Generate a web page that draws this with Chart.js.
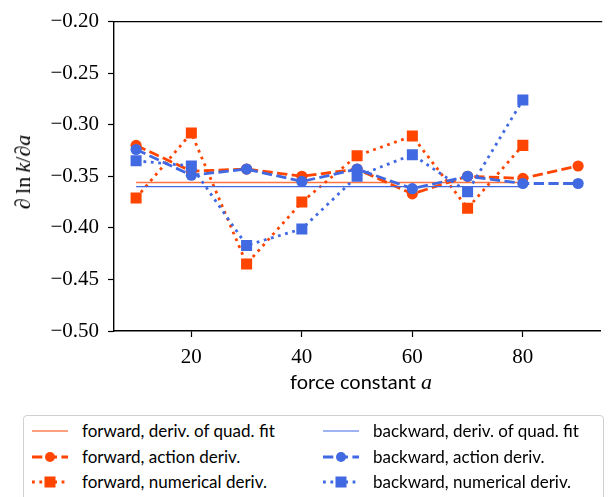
<!DOCTYPE html>
<html>
<head>
<meta charset="utf-8">
<script src="https://cdn.jsdelivr.net/npm/chart.js@4.4.1/dist/chart.umd.min.js"></script>
<style>
  html, body { margin: 0; padding: 0; background: #fff; }
  #wrap { position: relative; width: 608px; height: 497px; overflow: hidden; }
  #c { position: absolute; left: 0; top: 0; }
  #ytitle { position: absolute; left: 23px; top: 172px; transform: translate(-50%, -50%) rotate(-90deg);
            font-family: "Liberation Serif", serif; font-size: 22px; white-space: nowrap; color: #000; }
  #xtitle { position: absolute; left: 361px; top: 382px; transform: translate(-50%, -50%);
            font-family: Lato, sans-serif; font-size: 20px; white-space: nowrap; color: #000; }
  #xtitle i { font-family: "Liberation Serif", serif; font-size: 22px; }
  #legend { position: absolute; left: 23px; top: 415px; width: 581px; height: 100px;
            border: 1px solid #d0d0d0; border-radius: 4px; box-sizing: border-box;
            font-family: Lato, sans-serif; font-size: 17px; color: #000; }
  .item { position: absolute; height: 24px; white-space: nowrap; }
  .item svg { position: absolute; left: 0; top: 0; }
  .item span { position: absolute; left: 51px; line-height: 24px; top: 0; }
</style>
</head>
<body>
<div id="wrap">
  <canvas id="c" width="608" height="400"></canvas>
  <div id="ytitle"><i>∂</i>&#8201;ln&#8201;<i>k</i>/<i>∂a</i></div>
  <div id="xtitle">force constant <i>a</i></div>
  <div id="legend"></div>
</div>
<script>
// ---- data ----
const aValues       = [10, 20, 30, 40, 50, 60, 70, 80, 90];
const fwdAction     = [-0.320, -0.345, -0.343, -0.350, -0.343, -0.367, -0.350, -0.352, -0.340];
const bwdAction     = [-0.324, -0.349, -0.343, -0.355, -0.343, -0.362, -0.350, -0.357, -0.357];
const aNumerical    = [10, 20, 30, 40, 50, 60, 70, 80];
const fwdNumerical  = [-0.371, -0.308, -0.435, -0.375, -0.330, -0.311, -0.381, -0.320];
const bwdNumerical  = [-0.335, -0.340, -0.417, -0.401, -0.350, -0.329, -0.365, -0.276];
const fitRange      = [10, 80];
const fwdFit        = [-0.356, -0.356];
const bwdFit        = [-0.360, -0.360];
const xTicks        = [20, 40, 60, 80];
const yTicks        = [-0.50, -0.45, -0.40, -0.35, -0.30, -0.25, -0.20];
const seriesLabels  = [
  "forward, deriv. of quad. fit", "forward, action deriv.", "forward, numerical deriv.",
  "backward, deriv. of quad. fit", "backward, action deriv.", "backward, numerical deriv."
];

const ORANGE = "#ff4500", BLUE = "#4169e1";
const LW = 2.8;
const DASH = [10.3, 4.4], DOT = [2.8, 4.6];

const pts = (xs, ys) => xs.map((x, i) => ({x: x, y: ys[i]}));

const styles = [
  {color: "rgba(255,69,0,0.75)", legendColor: ORANGE, width: 1.6, dash: [], point: false},
  {color: ORANGE, width: LW, dash: DASH, point: "circle"},
  {color: ORANGE, width: LW, dash: DOT, point: "rect"},
  {color: BLUE, legendColor: BLUE, width: 1.2, dash: [], point: false},
  {color: BLUE, width: LW, dash: DASH, point: "circle"},
  {color: BLUE, width: LW, dash: DOT, point: "rect"}
];
const seriesData = [
  pts(fitRange, fwdFit), pts(aValues, fwdAction), pts(aNumerical, fwdNumerical),
  pts(fitRange, bwdFit), pts(aValues, bwdAction), pts(aNumerical, bwdNumerical)
];

const datasets = seriesData.map((d, i) => {
  const s = styles[i];
  return {
    label: seriesLabels[i],
    data: d,
    borderColor: s.color,
    backgroundColor: s.color,
    borderWidth: s.width,
    borderDash: s.dash,
    borderCapStyle: "butt",
    pointStyle: s.point || "circle",
    pointRadius: s.point === "circle" ? 5.6 : (s.point === "rect" ? 7.8 : 0),
    pointBorderWidth: 0,
    pointBackgroundColor: s.color,
    tension: 0,
    fill: false,
    order: 10 - i
  };
});

const frame = {
  id: "frame",
  afterDraw(chart) {
    const {ctx, chartArea} = chart;
    ctx.save();
    ctx.strokeStyle = "#000";
    ctx.lineWidth = 1.4;
    ctx.beginPath();
    ctx.moveTo(chartArea.left, chartArea.top);
    ctx.lineTo(chartArea.right + 2, chartArea.top);
    ctx.stroke();
    ctx.restore();
  }
};

const fmt = v => (v < 0 ? "\u2212" : "") + Math.abs(v).toFixed(2);

new Chart(document.getElementById("c"), {
  type: "line",
  data: {datasets: datasets},
  options: {
    responsive: false,
    animation: false,
    devicePixelRatio: 1,
    layout: {padding: {top: 16, right: 0, left: 0, bottom: 0}},
    plugins: {legend: {display: false}, tooltip: {enabled: false}},
    scales: {
      x: {
        type: "linear", min: 6, max: 94,
        afterBuildTicks: s => { s.ticks = xTicks.map(v => ({value: v})); },
        afterFit: s => { s.height = 69; },
        grid: {drawOnChartArea: false, drawTicks: true, tickLength: 6, color: "#000", tickWidth: 1.2},
        border: {display: true, color: "#000", width: 1.4},
        ticks: {color: "#000", padding: 8, maxRotation: 0,
                font: {family: "Liberation Serif", size: 21}}
      },
      y: {
        type: "linear", min: -0.5, max: -0.2,
        afterBuildTicks: s => { s.ticks = yTicks.map(v => ({value: v})); },
        afterFit: s => { s.width = 114; },
        grid: {drawOnChartArea: false, drawTicks: true, tickLength: 6, color: "#000", tickWidth: 1.2},
        border: {display: true, color: "#000", width: 1.4},
        ticks: {color: "#000", padding: 9, callback: v => fmt(v),
                font: {family: "Liberation Serif", size: 21}}
      }
    }
  },
  plugins: [frame]
});

// ---- legend (HTML, styles taken from the datasets) ----
const legend = document.getElementById("legend");
const colX = [7, 298], rowY = [3, 29, 54];
datasets.forEach((ds, i) => {
  const col = i < 3 ? 0 : 1, row = i % 3;
  const item = document.createElement("div");
  item.className = "item";
  item.style.left = colX[col] + "px";
  item.style.top = rowY[row] + "px";
  const st = styles[i];
  const c = st.legendColor || st.color;
  let marker = "";
  if (st.point === "circle") marker = `<circle cx="19" cy="12" r="5" fill="${c}"/>`;
  if (st.point === "rect") marker = `<rect x="13.5" y="6.5" width="11" height="11" fill="${c}"/>`;
  const dash = st.dash.length ? `stroke-dasharray="${st.dash.join(",")}"` : "";
  item.innerHTML =
    `<svg width="40" height="24"><line x1="1" y1="12" x2="37" y2="12" stroke="${c}" stroke-width="${st.dash.length ? LW : 1.2}" ${dash}/>${marker}</svg>` +
    `<span>${ds.label}</span>`;
  legend.appendChild(item);
});
</script>
</body>
</html>
